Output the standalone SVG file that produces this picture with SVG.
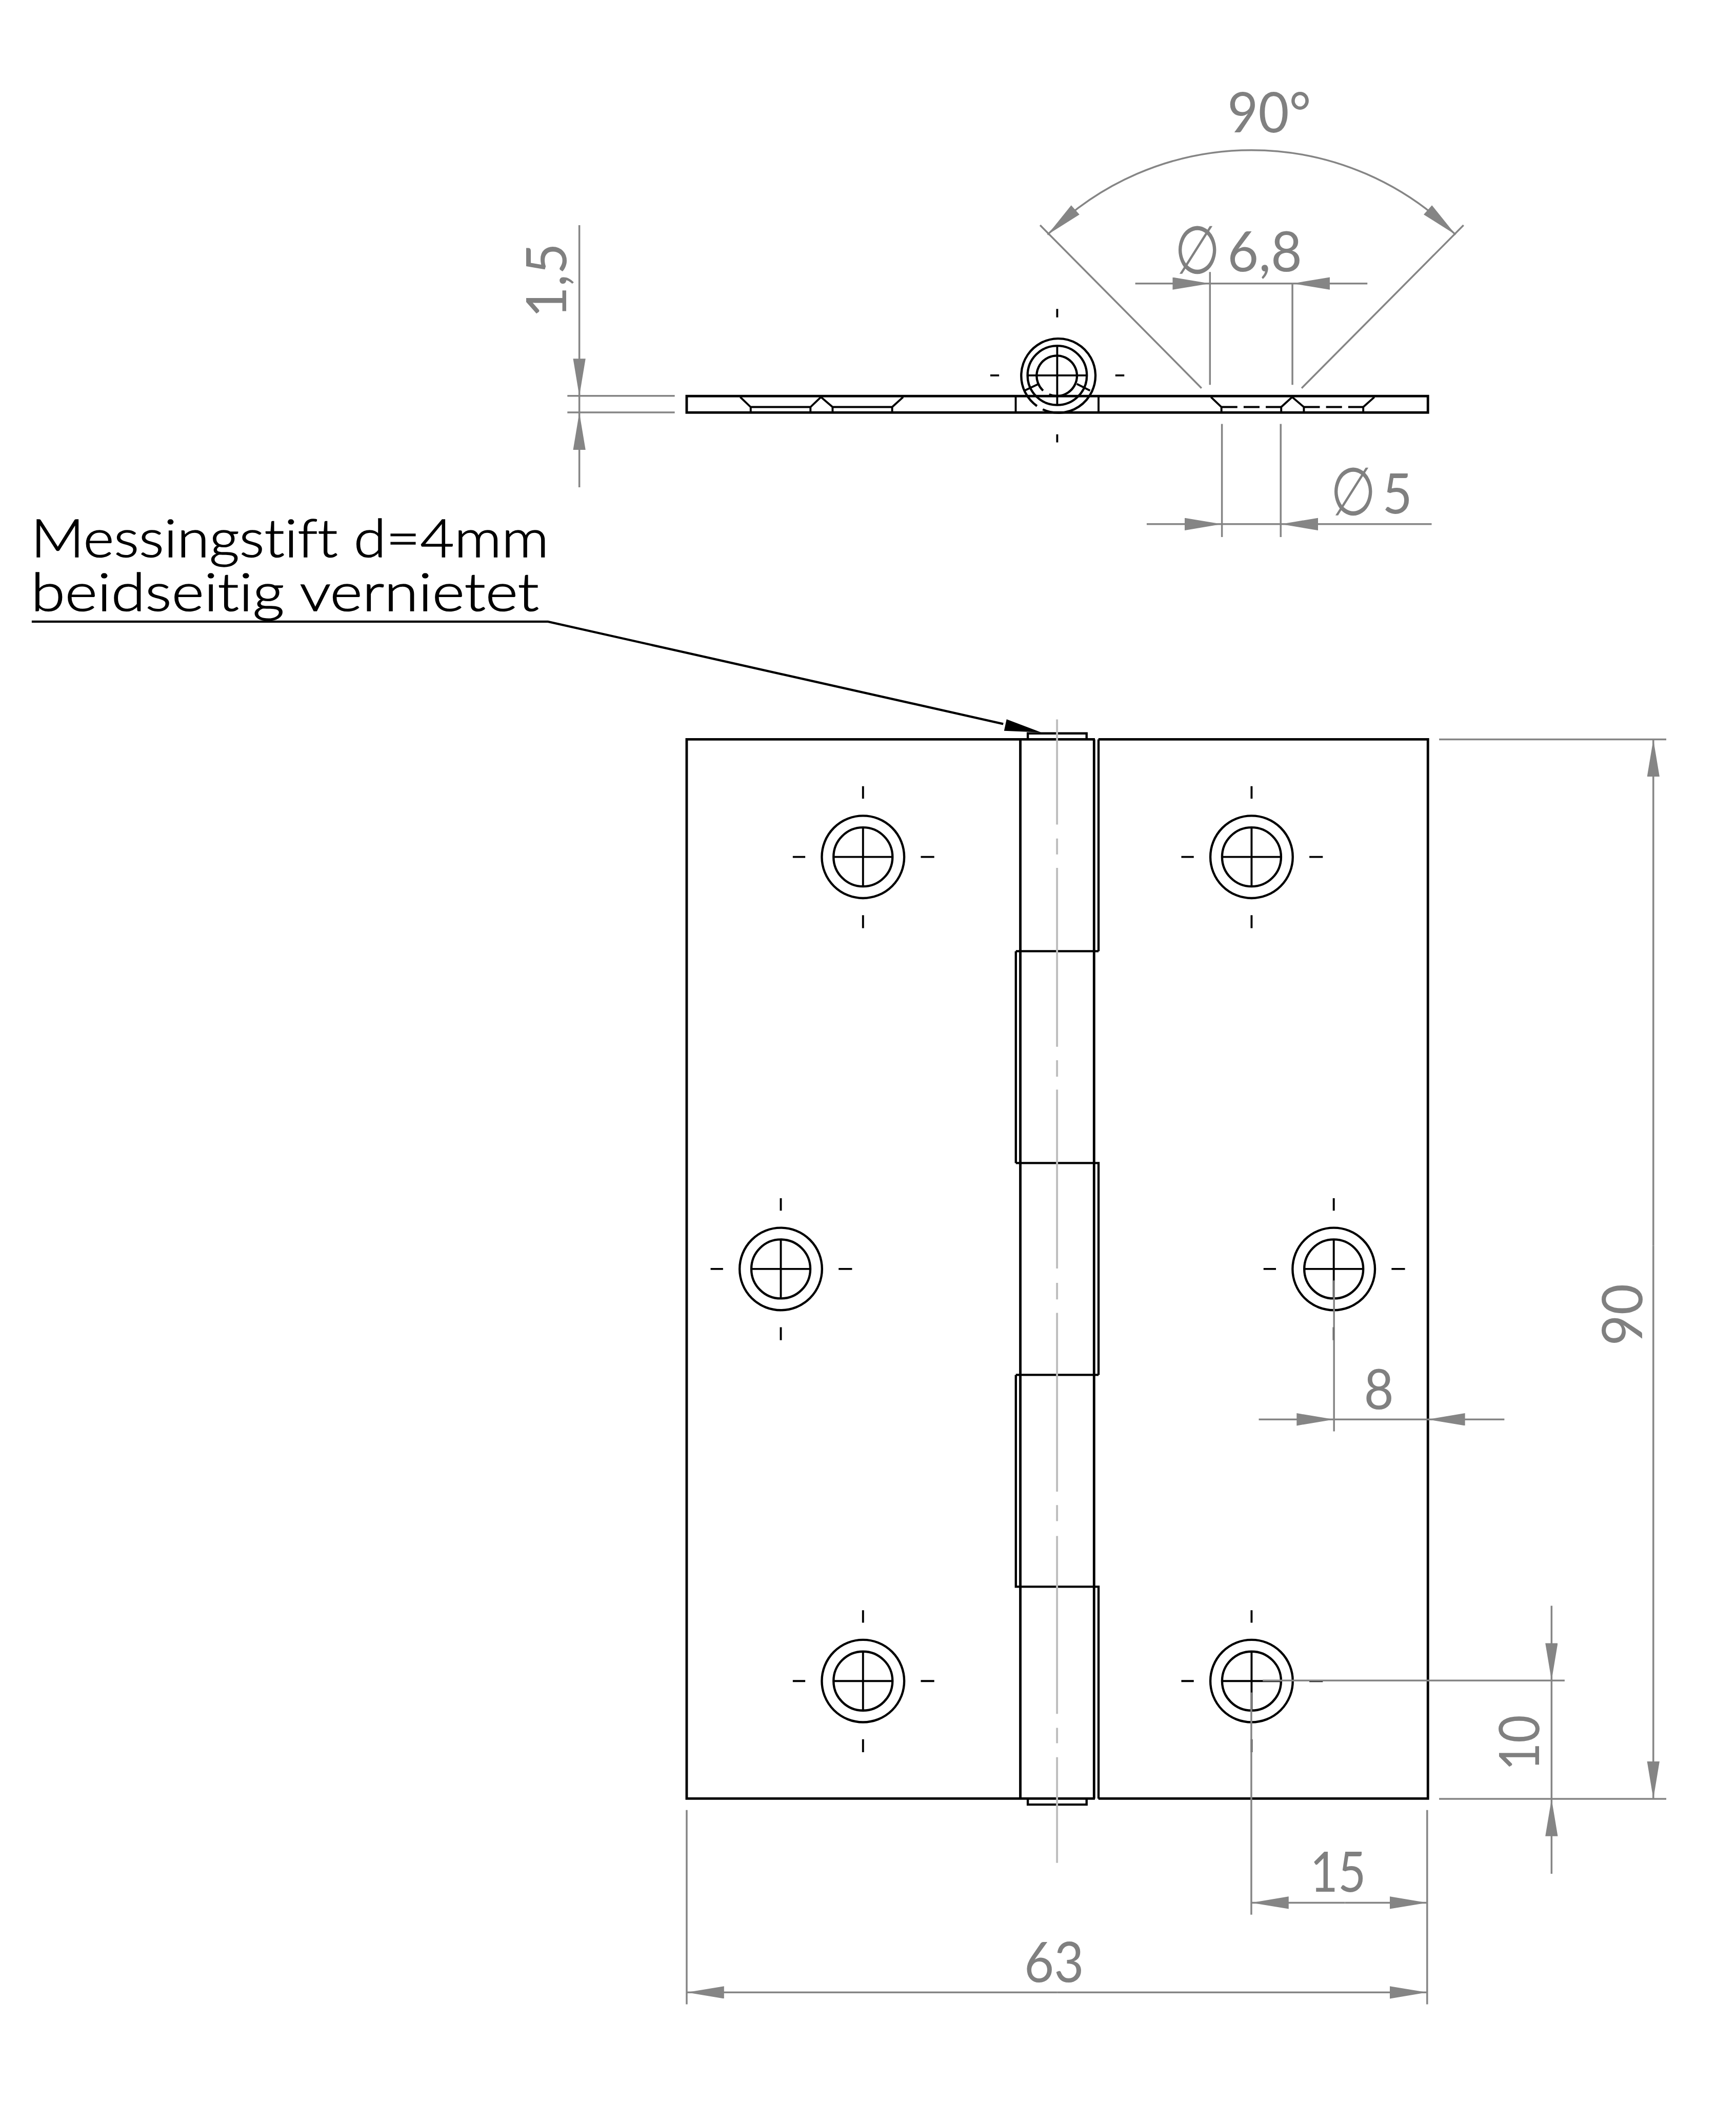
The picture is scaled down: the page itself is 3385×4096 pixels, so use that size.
<svg xmlns="http://www.w3.org/2000/svg" xmlns:xlink="http://www.w3.org/1999/xlink" width="3385" height="4096" viewBox="0 0 3385 4096">
<style>
.m{fill:none;stroke:#000;stroke-width:5}
.t{fill:none;stroke:#000;stroke-width:4}
.d{fill:none;stroke:#858585;stroke-width:3.6}
.c{fill:none;stroke:#bdbdbd;stroke-width:4}
.a{fill:#858585;stroke:none}
.dim{font-family:"Lato","Liberation Sans",sans-serif;font-weight:400;font-size:112px;fill:#808080;font-variant-ligatures:none}
.phi{font-family:"DejaVu Sans",sans-serif;font-size:105px;fill:#808080}
.note{font-family:"Lato","Liberation Sans",sans-serif;font-weight:300;font-size:106px;fill:#000;stroke:#000;stroke-width:1.6;font-variant-ligatures:none}
</style>
<defs>
<marker id="ah" markerUnits="userSpaceOnUse" markerWidth="76" markerHeight="26" refX="75" refY="12.5" orient="auto"><path d="M0,0 L75,12.5 L0,25Z" fill="#858585"/></marker>
<g id="hole">
<circle class="t" r="82.7" style="stroke-width:4.5"/>
<circle class="t" r="59.2" style="stroke-width:4.5"/>
<path class="t" d="M-59,0H59M0,-59V59M-141,0H-116M116,0H143M0,-142V-117M0,117V143"/>
</g>
</defs>
<rect width="3385" height="4096" fill="#fff"/>
<g transform="scale(0.97131)">
<g id="section-view">
<rect class="m" x="1378.5" y="795" width="1488" height="33"/>
<path class="t" d="M2039,795V828M2205.3,795V828"/>
<path class="t" d="M1486,797L1507,817H1627L1648,797L1671.4,817H1791L1813,797M1507,817V828M1627,817V828M1671.4,817V828M1791,817V828"/>
<path class="t" d="M2431,797L2452,817M2572,817L2594,797L2617.5,817M2736.7,817L2759,797M2452,817V828M2572,817V828M2617.5,817V828M2736.7,817V828"/>
<path class="t" stroke-dasharray="32 12.5" d="M2452,817H2572M2617.5,817H2737"/>
<g id="pin-section">
<path class="t" style="stroke-width:4.5" d="M2081.7,815A74.5,74.5 0 1 1 2093.3,821.7"/>
<circle class="t" style="stroke-width:4.5" cx="2122.3" cy="753.5" r="59.5"/>
<path class="t" style="stroke-width:4.5" d="M2094,784A40.5,40.5 0 1 1 2106,791.7"/>
<path class="t" d="M2064,753.5H2181.7M2122.3,693V813M2056.7,784L2085,770.7M2161.7,770.7L2188.3,784"/>
<path class="t" d="M2122.3,620V637M2122.3,871.7V888M1988,753.5H2005.7M2239,753.5H2257"/>
</g>
</g>
<g id="front-view">
<path class="m" d="M2198,1484H1378.5V3610H2198M2205,1484H2866.5V3610H2205"/>
<path class="m" d="M2048.3,1484V3610M2196.3,1484V3610"/>
<path class="t" style="stroke-width:4.5" d="M2205.3,1484V1909.2M2039.3,1909.2H2205.3M2039.3,1909.2V2334.4M2039.3,2334.4H2205.3V2759.6M2039.3,2759.6H2205.3M2039.3,2759.6V3184.8H2205.3V3610"/>
<path class="t" style="stroke-width:4.5" d="M2063.3,1484V1472H2181.3V1484M2063.3,3610V3622H2181.3V3610"/>
<path class="c" d="M2122,1444V1655M2122,1683V1715M2122,1742V2101M2122,2128V2161M2122,2187V2546M2122,2575V2608M2122,2635V2994M2122,3021V3053M2122,3083V3440M2122,3468V3499M2122,3527V3739"/>
<use xlink:href="#hole" href="#hole" x="1732.5" y="1720"/>
<use xlink:href="#hole" href="#hole" x="2512.5" y="1720"/>
<use xlink:href="#hole" href="#hole" x="1567.5" y="2547"/>
<use xlink:href="#hole" href="#hole" x="2677.5" y="2547"/>
<use xlink:href="#hole" href="#hole" x="1732.5" y="3374"/>
<use xlink:href="#hole" href="#hole" x="2512.5" y="3374"/>
</g>
<g id="note">
<text class="note" x="62" y="1118" textLength="1040" lengthAdjust="spacingAndGlyphs">Messingstift d=4mm</text>
<text class="note" x="62" y="1226" textLength="1020" lengthAdjust="spacingAndGlyphs">beidseitig vernietet</text>
<path class="t" style="stroke-width:4.5" d="M63.7,1247.7H1100L2014,1453" />
<path d="M2020.7,1443.6L2090,1470L2015.7,1466.8Z" fill="#000"/>
</g>
<g id="dimensions">
<!-- 90 deg -->
<path class="d" d="M2412,779L2088,452M2613,779L2938,452"/>
<path class="d" d="M2103,471A579,579 0 0 1 2922,471"/>
<path class="a" d="M2103,471L2150.4,412L2167,430.6Z"/>
<path class="a" d="M2922,471L2874.6,412L2858,430.6Z"/>
<text class="dim" x="2464" y="266" textLength="168" lengthAdjust="spacingAndGlyphs">90°</text>
<!-- dia 6,8 -->
<path class="d" d="M2429,546V772.5M2594.5,569V772.5M2429,569H2594.5"/>
<path class="d" marker-end="url(#ah)" d="M2279,569H2429"/>
<path class="d" marker-end="url(#ah)" d="M2745,569H2594.5"/>
<text class="phi" transform="translate(2358,549) scale(1,1.28)">∅</text>
<text class="dim" x="2464" y="545" textLength="150" lengthAdjust="spacingAndGlyphs">6,8</text>
<!-- dia 5 -->
<path class="d" d="M2453,851V1078M2571,851V1078M2453,1052H2571"/>
<path class="d" marker-end="url(#ah)" d="M2302,1052H2453"/>
<path class="d" marker-end="url(#ah)" d="M2874,1052H2571"/>
<text class="phi" transform="translate(2671,1034) scale(1,1.28)">∅</text>
<text class="dim" x="2775" y="1031" textLength="60" lengthAdjust="spacingAndGlyphs">5</text>
<!-- 1,5 -->
<path class="d" d="M1139,794.5H1354.5M1139,827.7H1354.5M1163,795V828"/>
<path class="d" marker-end="url(#ah)" d="M1163,452V795"/>
<path class="d" marker-end="url(#ah)" d="M1163,978V828"/>
<text class="dim" transform="translate(1137,638) rotate(-90)" textLength="150" lengthAdjust="spacingAndGlyphs">1,5</text>
<!-- 8 -->
<path class="d" d="M2678,2570V2873M2678,2849H2866"/>
<path class="d" marker-end="url(#ah)" d="M2527,2849H2678"/>
<path class="d" marker-end="url(#ah)" d="M3020,2849H2866"/>
<text class="dim" x="2738" y="2828" textLength="60" lengthAdjust="spacingAndGlyphs">8</text>
<!-- 15 -->
<path class="d" d="M2512,3397V3843M2865,3633V4023"/>
<path class="d" marker-end="url(#ah)" d="M2700,3819H2512"/>
<path class="d" marker-end="url(#ah)" d="M2700,3819H2865"/>
<text class="dim" x="2630" y="3797" textLength="112" lengthAdjust="spacingAndGlyphs">15</text>
<!-- 63 -->
<path class="d" d="M1378.5,3633V4023"/>
<path class="d" marker-end="url(#ah)" d="M2122,3999H1378.5"/>
<path class="d" marker-end="url(#ah)" d="M2122,3999H2865"/>
<text class="dim" x="2056" y="3978" textLength="120" lengthAdjust="spacingAndGlyphs">63</text>
<!-- 10 -->
<path class="d" d="M2535,3373H3141M2889,3610.5H3345M3114.7,3373V3610.5"/>
<path class="d" marker-end="url(#ah)" d="M3114.7,3223V3373"/>
<path class="d" marker-end="url(#ah)" d="M3114.7,3761V3610.5"/>
<text class="dim" transform="translate(3090,3554) rotate(-90)" textLength="112" lengthAdjust="spacingAndGlyphs">10</text>
<!-- 90 -->
<path class="d" d="M2889,1484H3345"/>
<path class="d" marker-end="url(#ah)" d="M3319,2500V1484"/>
<path class="d" marker-end="url(#ah)" d="M3319,2500V3610.5"/>
<text class="dim" transform="translate(3297,2701) rotate(-90)" textLength="124" lengthAdjust="spacingAndGlyphs">90</text>
</g>
</g>
</svg>
